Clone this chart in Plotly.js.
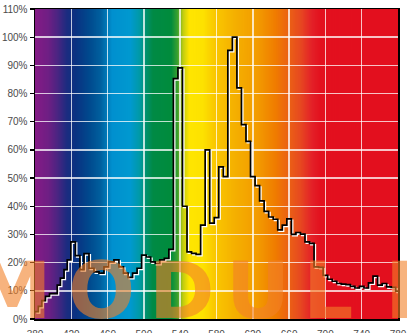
<!DOCTYPE html>
<html><head><meta charset="utf-8">
<script src="https://cdn.plot.ly/plotly-3.0.1.min.js"></script>
<style>html,body{margin:0;padding:0;background:#fff;overflow:hidden}#chart{width:407px;height:333px}</style>
</head><body><div id="chart"></div>
<script>
// step left edges (nm) and relative intensity (%)
const wavelength = [380,383.7,387.5,391.5,396,404.5,408,412,415.5,419.5,424.5,429.5,434,439.5,445,450.5,456,461,467,472.5,477.5,482.5,487.5,492.5,497.5,502.5,507.5,512.5,517.5,522.5,527.5,532.5,537.5,542.5,547.5,552.5,557.5,562.5,567.5,572.5,577.5,582.5,587.5,592.5,597.5,602.5,607.5,612.5,617.5,622.5,627.5,632.5,637.5,642.5,647.5,652.5,657.5,662.5,667.5,672.5,677.5,682.5,687.5,692.5,697.5,702.5,707.5,712.5,717.5,722.5,727.5,732.5,737.5,742.5,747.5,752.5,757.5,762.5,767.5,772.5,777.5,780];
const intensity = [2.6,4.5,6.5,8,9,12,14.5,17.5,21,27.4,22.5,17.5,23.2,18,16.7,16.3,18.5,20.3,21,18.5,16.3,14.8,16.3,18,22.7,22,20.3,19.7,21,21.5,24.7,85.3,89.1,40,23.8,23.3,22.9,33.3,60,34,36,54,50.5,95.3,100,82,69,63,50.5,47.3,41.9,38.2,36.2,35.4,31.6,33.3,35.5,30,30.7,30.1,27.4,26.8,18.5,18.3,15.5,14.1,13.4,12.6,12.4,12.2,11.6,11,11.6,11,12.8,15.2,12,12.6,11.4,11.2,9.9,9.9];
const xTickValues = [380,420,460,500,540,580,620,660,700,740,780];
const yTickValues = [0,10,20,30,40,50,60,70,80,90,100,110];
const yTickLabels = yTickValues.map(v => v + '%');
const watermarkLetters = ['M','O','D','U','L','E'];

// spectrum background colours
const spectrumStops = [[380,'#851b86'],[395,'#6e1f84'],[405,'#4a2582'],[415,'#1c2c80'],[425,'#0a3282'],[440,'#004a8e'],[452,'#005f9e'],[465,'#0090cf'],[485,'#0099d0'],[495,'#009aa8'],[503,'#00906a'],[510,'#008a45'],[530,'#008c3c'],[537,'#3aa030'],[543,'#c0cc10'],[550,'#ffe600'],[565,'#fde200'],[578,'#fac800'],[600,'#f5b000'],[625,'#f39c00'],[645,'#f07c00'],[660,'#eb6015'],[672,'#e74a20'],[685,'#e42128'],[695,'#e3101e'],[780,'#e30f1e']];

const cv = document.createElement('canvas');
cv.width = 800; cv.height = 4;
const ctx = cv.getContext('2d');
const g = ctx.createLinearGradient(0,0,800,0);
spectrumStops.forEach(s => g.addColorStop((s[0]-380)/400, s[1]));
ctx.fillStyle = g; ctx.fillRect(0,0,800,4);
const bgURL = cv.toDataURL();

const L = 35, R = 398, T = 9, B = 318.7;
const letterCenters = [12,101,182,258,328,412];
const annotations = watermarkLetters.map((ch,i) => ({
  text: ch, xref: 'paper', yref: 'paper',
  x: (letterCenters[i]-L)/(R-L), y: (B-291)/(B-T),
  xanchor: 'center', yanchor: 'middle', showarrow: false,
  font: {family: 'DejaVu Sans, Liberation Sans, sans-serif', size: 79, weight: 'bold', color: 'rgba(242,128,40,0.6)'}
}));

const traces = [
  {x: wavelength, y: intensity, type: 'scatter', mode: 'lines', line: {shape: 'hv', color: '#ffffff', width: 1.6}, hoverinfo: 'skip'},
  {x: wavelength, y: intensity, type: 'scatter', mode: 'lines', line: {shape: 'hv', color: '#000000', width: 1.7}, hoverinfo: 'skip'}
];

const tickFont = {family: 'Liberation Sans, Arial, sans-serif', size: 10, color: '#4a4a4a'};
const layout = {
  width: 407, height: 333,
  margin: {l: L, r: 407-R, t: T, b: 333-B},
  paper_bgcolor: '#ffffff', plot_bgcolor: 'rgba(0,0,0,0)',
  showlegend: false,
  xaxis: {range: [380,780], tickvals: xTickValues, ticks: 'outside', ticklen: 5, tickcolor: 'rgba(0,0,0,0)',
    showgrid: true, gridcolor: 'rgba(255,255,255,0.75)', gridwidth: 1.5,
    showline: true, linecolor: '#000', linewidth: 1.5, mirror: true, zeroline: false, tickfont: tickFont, fixedrange: true},
  yaxis: {range: [0,110], tickvals: yTickValues, ticktext: yTickLabels, ticks: 'outside', ticklen: 4, tickwidth: 1.2, tickcolor: '#000',
    showgrid: true, gridcolor: 'rgba(255,255,255,0.75)', gridwidth: 1.5,
    showline: true, linecolor: '#000', linewidth: 1.5, mirror: true, zeroline: false, tickfont: tickFont, fixedrange: true},
  images: [{source: bgURL, xref: 'x', yref: 'y', x: 380, y: 110, sizex: 400, sizey: 110, sizing: 'stretch', xanchor: 'left', yanchor: 'top', layer: 'below'}],
  annotations: annotations
};

Plotly.newPlot('chart', traces, layout, {staticPlot: true, displayModeBar: false}).then(() => {
  const tr = document.querySelectorAll('.scatterlayer .trace');
  if (tr.length) {
    const p = tr[0].querySelector('path.js-line');
    if (p) p.setAttribute('transform', 'translate(1.3,1.3)');
  }
});
</script></body></html>
